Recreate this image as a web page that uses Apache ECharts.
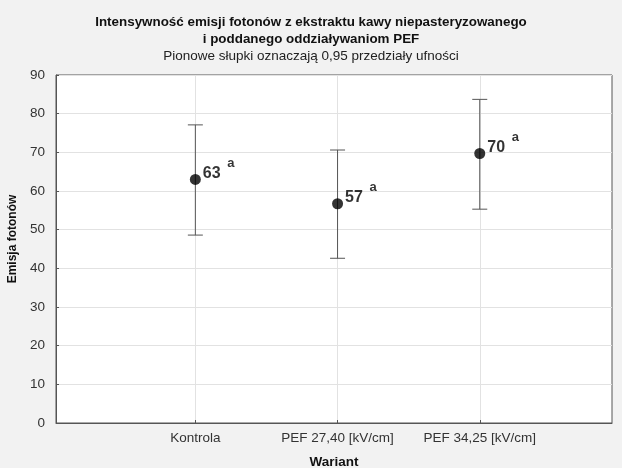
<!DOCTYPE html>
<html>
<head>
<meta charset="utf-8">
<script src="https://cdn.jsdelivr.net/npm/echarts@6/dist/echarts.min.js"></script>
<style>
  html, body { margin: 0; padding: 0; background: #f2f2f2; }
  #chart { width: 622px; height: 468px; }
</style>
</head>
<body>
<div id="chart"></div>
<script>
const categories = ['Kontrola', 'PEF 27,40 [kV/cm]', 'PEF 34,25 [kV/cm]']
const means = [63.0, 56.7, 69.7]
const lower = [48.6, 42.6, 55.3]
const upper = [77.1, 70.6, 83.7]
const meanLabels = ['63', '57', '70']
const groupLetters = ['a', 'a', 'a']
const yTicks = [0, 10, 20, 30, 40, 50, 60, 70, 80, 90]

const font = 'Liberation Sans, Arial, sans-serif'
const positions = categories.map((c, i) => i + 1)

const chart = echarts.init(document.getElementById('chart'))

const option = {
  backgroundColor: '#f2f2f2',
  animation: false,
  title: [
    {
      text: 'Intensywność emisji fotonów z ekstraktu kawy niepasteryzowanego\ni poddanego oddziaływaniom PEF',
      left: 'center',
      top: 9,
      textStyle: { fontFamily: font, fontSize: 13.4, fontWeight: 'bold', color: '#111', lineHeight: 17, align: 'center' }
    },
    {
      text: 'Pionowe słupki oznaczają 0,95 przedziały ufności',
      left: 'center',
      top: 44,
      textStyle: { fontFamily: font, fontSize: 13.5, fontWeight: 'normal', color: '#222' }
    }
  ],
  grid: {
    left: 56, right: 10, top: 75, bottom: 45,
    outerBoundsMode: 'none', containLabel: false,
    show: true, backgroundColor: '#fff', borderColor: '#555', borderWidth: 1
  },
  xAxis: {
    type: 'value',
    min: 0.02,
    max: 3.93,
    name: 'Wariant',
    nameLocation: 'middle',
    nameGap: 32,
    nameTextStyle: { fontFamily: font, fontSize: 13.5, fontWeight: 'bold', color: '#111' },
    axisLine: { lineStyle: { color: '#555' } },
    axisTick: { show: true, inside: true, length: 3, customValues: positions, lineStyle: { color: '#555' } },
    axisLabel: {
      customValues: positions,
      formatter: v => categories[Math.round(v) - 1] || '',
      fontFamily: font, fontSize: 13.5, color: '#333', margin: 8
    },
    splitLine: { show: true, lineStyle: { color: '#e2e2e2' } }
  },
  yAxis: {
    type: 'value',
    min: yTicks[0],
    max: yTicks[yTicks.length - 1],
    interval: 10,
    name: 'Emisja fotonów',
    nameLocation: 'middle',
    nameGap: 31,
    nameTextStyle: { fontFamily: font, fontSize: 12, fontWeight: 'bold', color: '#111', padding: [0, 0, 0, 20] },
    axisLine: { show: true, lineStyle: { color: '#555' } },
    axisTick: { show: true, inside: true, length: 3, lineStyle: { color: '#555' } },
    axisLabel: { fontFamily: font, fontSize: 13.5, color: '#333', margin: 11 },
    splitLine: { show: true, lineStyle: { color: '#e2e2e2' } }
  },
  series: [
    {
      type: 'custom',
      data: positions.map((x, i) => [x, lower[i], upper[i]]),
      renderItem: (params, api) => {
        const lo = api.coord([api.value(0), api.value(1)])
        const hi = api.coord([api.value(0), api.value(2)])
        const hw = 7.5
        const style = { stroke: '#555', lineWidth: 1 }
        return {
          type: 'group',
          children: [
            { type: 'line', shape: { x1: hi[0], y1: hi[1], x2: lo[0], y2: lo[1] }, style },
            { type: 'line', shape: { x1: hi[0] - hw, y1: hi[1], x2: hi[0] + hw, y2: hi[1] }, style },
            { type: 'line', shape: { x1: lo[0] - hw, y1: lo[1], x2: lo[0] + hw, y2: lo[1] }, style }
          ]
        }
      },
      z: 2
    },
    {
      type: 'scatter',
      symbol: 'circle',
      symbolSize: 11,
      itemStyle: { color: '#000' },
      data: positions.map((x, i) => [x, means[i]]),
      label: {
        show: true,
        position: 'right',
        distance: 2,
        offset: [0, -6],
        formatter: p => '{v|' + meanLabels[p.dataIndex] + '}  {s|' + groupLetters[p.dataIndex] + '}',
        rich: {
          v: { fontFamily: font, fontSize: 16, fontWeight: 'bold', color: '#000' },
          s: { fontFamily: font, fontSize: 13, fontWeight: 'bold', color: '#000', verticalAlign: 'top', padding: [0, 0, 20, 0] }
        }
      },
      z: 3
    }
  ]
}

chart.setOption(option)
</script>
</body>
</html>
